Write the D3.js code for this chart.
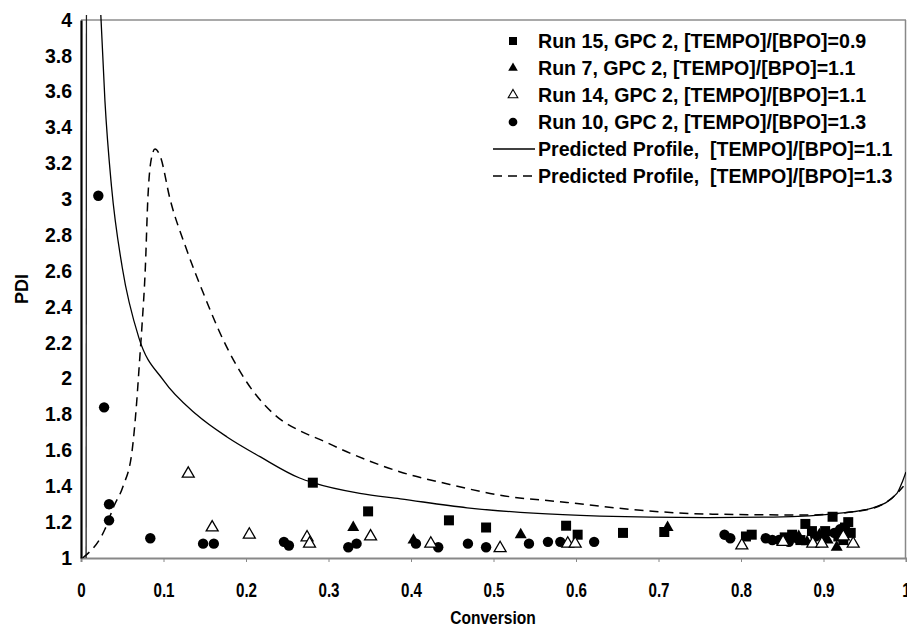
<!DOCTYPE html>
<html>
<head>
<meta charset="utf-8">
<script src="https://cdn.jsdelivr.net/npm/d3@7"></script>
<style>
  html, body { margin: 0; padding: 0; background: #fff; }
  svg { display: block; font-family: "Liberation Sans", Arial, sans-serif; }
</style>
</head>
<body>
<svg id="chart" width="907" height="628"></svg>
<script>
// Axis ticks
const xTicks = [0, 0.1, 0.2, 0.3, 0.4, 0.5, 0.6, 0.7, 0.8, 0.9, 1];
const yTicks = [1, 1.2, 1.4, 1.6, 1.8, 2, 2.2, 2.4, 2.6, 2.8, 3, 3.2, 3.4, 3.6, 3.8, 4];

// Run 15, [TEMPO]/[BPO]=0.9 (filled squares)
const run15X = [0.281, 0.348, 0.446, 0.491, 0.588, 0.602, 0.657, 0.707, 0.806, 0.813, 0.853, 0.862, 0.872, 0.878, 0.886, 0.902, 0.911, 0.918, 0.924, 0.926, 0.930, 0.933];
const run15Y = [1.42, 1.26, 1.21, 1.17, 1.18, 1.13, 1.14, 1.145, 1.12, 1.13, 1.115, 1.13, 1.10, 1.19, 1.15, 1.15, 1.23, 1.12, 1.10, 1.17, 1.20, 1.14];

// Run 7, [TEMPO]/[BPO]=1.1 (filled triangles)
const run7X = [0.330, 0.403, 0.533, 0.711, 0.870, 0.880, 0.895, 0.905, 0.916, 0.925];
const run7Y = [1.17, 1.10, 1.13, 1.17, 1.12, 1.09, 1.13, 1.10, 1.06, 1.15];

// Run 14, [TEMPO]/[BPO]=1.1 (open triangles)
const run14X = [0.130, 0.159, 0.204, 0.274, 0.277, 0.351, 0.424, 0.508, 0.590, 0.599, 0.801, 0.851, 0.887, 0.898, 0.924, 0.936];
const run14Y = [1.47, 1.17, 1.13, 1.115, 1.08, 1.12, 1.08, 1.055, 1.08, 1.08, 1.07, 1.09, 1.08, 1.08, 1.12, 1.08];

// Run 10, [TEMPO]/[BPO]=1.3 (filled circles)
const run10X = [0.021, 0.028, 0.034, 0.034, 0.084, 0.148, 0.161, 0.246, 0.252, 0.324, 0.334, 0.406, 0.433, 0.469, 0.491, 0.543, 0.566, 0.581, 0.622, 0.780, 0.787, 0.830, 0.838, 0.846, 0.858, 0.868, 0.890, 0.900, 0.913, 0.920, 0.928];
const run10Y = [3.02, 1.84, 1.30, 1.21, 1.11, 1.08, 1.08, 1.09, 1.07, 1.06, 1.08, 1.08, 1.06, 1.08, 1.06, 1.08, 1.09, 1.09, 1.09, 1.13, 1.11, 1.11, 1.10, 1.10, 1.09, 1.11, 1.12, 1.12, 1.14, 1.16, 1.14];

// Predicted profile, [TEMPO]/[BPO]=1.1 (solid): rising branch and decaying branch
const pred11LeftX = [0.0062, 0.0066];
const pred11LeftY = [1.0, 4.03];
const pred11X = [0.024, 0.029, 0.037, 0.050, 0.070, 0.100, 0.140, 0.177, 0.217, 0.265, 0.281, 0.338, 0.387, 0.468, 0.548, 0.629, 0.690, 0.760, 0.839, 0.920, 0.960, 0.989, 0.996, 1.0];
const pred11Y = [4.03, 3.55, 3.07, 2.62, 2.23, 1.99, 1.80, 1.675, 1.565, 1.446, 1.42, 1.36, 1.33, 1.28, 1.25, 1.234, 1.228, 1.225, 1.228, 1.25, 1.28, 1.36, 1.43, 1.48];

// Predicted profile, [TEMPO]/[BPO]=1.3 (dashed)
const pred13X = [0.002, 0.029, 0.040, 0.051, 0.062, 0.067, 0.071, 0.074, 0.078, 0.081, 0.085, 0.0897, 0.096, 0.108, 0.128, 0.148, 0.172, 0.201, 0.237, 0.265, 0.290, 0.326, 0.387, 0.447, 0.508, 0.589, 0.669, 0.758, 0.880, 0.940, 0.972, 0.989, 0.997];
const pred13Y = [1.0, 1.16, 1.29, 1.40, 1.60, 1.84, 2.10, 2.30, 2.62, 3.00, 3.22, 3.28, 3.24, 3.00, 2.72, 2.48, 2.22, 1.98, 1.79, 1.71, 1.66, 1.585, 1.48, 1.41, 1.35, 1.31, 1.27, 1.245, 1.24, 1.26, 1.30, 1.36, 1.40];

const legendLabels = [
  "Run 15, GPC 2, [TEMPO]/[BPO]=0.9",
  "Run 7, GPC 2, [TEMPO]/[BPO]=1.1",
  "Run 14, GPC 2, [TEMPO]/[BPO]=1.1",
  "Run 10, GPC 2, [TEMPO]/[BPO]=1.3",
  "Predicted Profile,  [TEMPO]/[BPO]=1.1",
  "Predicted Profile,  [TEMPO]/[BPO]=1.3"
];

const W = 907, H = 628;
const margin = { top: 20, right: 1, bottom: 70, left: 81 };
const iw = W - margin.left - margin.right;
const ih = H - margin.top - margin.bottom;

const svg = d3.select("#chart");
const x = d3.scaleLinear().domain([0, 1]).range([margin.left, margin.left + iw]);
const y = d3.scaleLinear().domain([1, 4]).range([margin.top + ih, margin.top]);

const zip = (xs, ys) => xs.map((v, i) => [v, ys[i]]);

// Frame: grey top/right/bottom, heavy black left axis
svg.append("line").attr("x1", x(0)).attr("x2", x(1)).attr("y1", y(4)).attr("y2", y(4))
  .attr("stroke", "#555").attr("stroke-width", 1.2);
svg.append("line").attr("x1", x(1) - 0.5).attr("x2", x(1) - 0.5).attr("y1", y(4)).attr("y2", y(1))
  .attr("stroke", "#888").attr("stroke-width", 1.5);

// X axis (condensed bold tick labels)
const xAxis = svg.append("g").attr("transform", `translate(0,${y(1)})`)
  .call(d3.axisBottom(x).tickValues(xTicks).tickSize(4).tickFormat(d3.format("")).tickPadding(20));
xAxis.select(".domain").attr("stroke", "#888").attr("stroke-width", 2);
xAxis.selectAll(".tick line").attr("stroke", "#888");
xAxis.selectAll(".tick text")
  .attr("font-size", 20.5).attr("font-weight", "bold").attr("fill", "#000")
  .attr("transform", "scale(0.74,1)");

// Y axis
const yAxis = svg.append("g").attr("transform", `translate(${x(0)},0)`)
  .call(d3.axisLeft(y).tickValues(yTicks).tickSize(0).tickPadding(9).tickFormat(d3.format("")));
yAxis.select(".domain").attr("stroke", "#000").attr("stroke-width", 2.2);
yAxis.selectAll(".tick text")
  .attr("font-size", 19.5).attr("font-weight", "bold").attr("fill", "#000");

// Axis titles
svg.append("text").attr("x", 0).attr("y", 0)
  .attr("text-anchor", "middle").attr("font-size", 19).attr("font-weight", "bold")
  .attr("transform", "translate(493,624) scale(0.82,1)")
  .text("Conversion");
svg.append("text").attr("transform", `translate(28,${margin.top + ih / 2}) rotate(-90)`)
  .attr("text-anchor", "middle").attr("font-size", 18).attr("font-weight", "bold")
  .text("PDI");

// Clip for the curves (they run just past the top border)
svg.append("clipPath").attr("id", "plotClip").append("rect")
  .attr("x", x(0)).attr("y", y(4) - 5).attr("width", iw).attr("height", ih + 5);

const line = d3.line().x(d => x(d[0])).y(d => y(d[1])).curve(d3.curveMonotoneX);
const curves = svg.append("g").attr("clip-path", "url(#plotClip)");

curves.append("path").datum(zip(pred11LeftX, pred11LeftY))
  .attr("d", d3.line().x(d => x(d[0])).y(d => y(d[1])))
  .attr("fill", "none").attr("stroke", "#222").attr("stroke-width", 1.3);
curves.append("path").datum(zip(pred11X, pred11Y))
  .attr("d", line).attr("fill", "none").attr("stroke", "#000").attr("stroke-width", 1.3);
curves.append("path").datum(zip(pred13X, pred13Y))
  .attr("d", line).attr("fill", "none").attr("stroke", "#000").attr("stroke-width", 1.5)
  .attr("stroke-dasharray", "9,6");

// Markers
const sq = d3.symbol().type(d3.symbolSquare).size(100);
const tri = d3.symbol().type(d3.symbolTriangle).size(62);
const circ = d3.symbol().type(d3.symbolCircle).size(85);

const pts = svg.append("g");
pts.selectAll(".r10").data(zip(run10X, run10Y)).join("path")
  .attr("d", circ).attr("transform", d => `translate(${x(d[0])},${y(d[1])})`).attr("fill", "#000");
pts.selectAll(".r15").data(zip(run15X, run15Y)).join("path")
  .attr("d", sq).attr("transform", d => `translate(${x(d[0])},${y(d[1])})`).attr("fill", "#000");
pts.selectAll(".r7").data(zip(run7X, run7Y)).join("path")
  .attr("d", tri).attr("transform", d => `translate(${x(d[0])},${y(d[1])})`).attr("fill", "#000");
pts.selectAll(".r14").data(zip(run14X, run14Y)).join("path")
  .attr("d", tri).attr("transform", d => `translate(${x(d[0])},${y(d[1])})`)
  .attr("fill", "#fff").attr("stroke", "#000").attr("stroke-width", 1.3);

// Legend
const lg = svg.append("g");
const rowY = i => 41 + i * 27;
const mx = 513;
lg.append("path").attr("d", d3.symbol().type(d3.symbolSquare).size(64)).attr("transform", `translate(${mx},${rowY(0)})`).attr("fill", "#000");
lg.append("path").attr("d", d3.symbol().type(d3.symbolTriangle).size(40)).attr("transform", `translate(${mx},${rowY(1)})`).attr("fill", "#000");
lg.append("path").attr("d", d3.symbol().type(d3.symbolTriangle).size(40)).attr("transform", `translate(${mx},${rowY(2)})`)
  .attr("fill", "#fff").attr("stroke", "#000").attr("stroke-width", 1.1);
lg.append("path").attr("d", d3.symbol().type(d3.symbolCircle).size(60)).attr("transform", `translate(${mx},${rowY(3)})`).attr("fill", "#000");
lg.append("line").attr("x1", 493).attr("x2", 535).attr("y1", rowY(4)).attr("y2", rowY(4))
  .attr("stroke", "#000").attr("stroke-width", 1.3);
lg.append("line").attr("x1", 493).attr("x2", 535).attr("y1", rowY(5)).attr("y2", rowY(5))
  .attr("stroke", "#000").attr("stroke-width", 1.5).attr("stroke-dasharray", "9,6");
lg.selectAll("text.lbl").data(legendLabels).join("text")
  .attr("x", 538).attr("y", (d, i) => rowY(i)).attr("dy", "0.36em")
  .attr("font-size", 19.6).attr("font-weight", "bold").attr("fill", "#000")
  .attr("xml:space", "preserve").style("white-space", "pre")
  .text(d => d);
</script>
</body>
</html>
